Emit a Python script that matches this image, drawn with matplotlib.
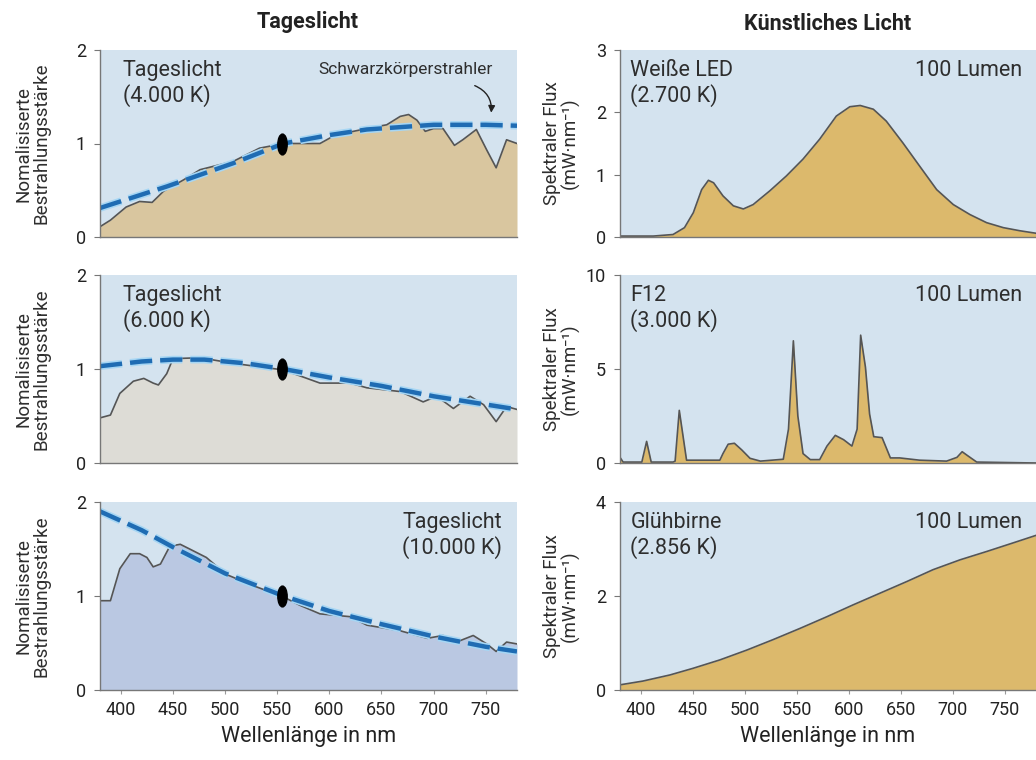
import matplotlib.pyplot as plt
import matplotlib.patheffects as pe
from matplotlib.path import Path
from matplotlib.transforms import Affine2D

plt.rcParams['font.family'] = ['Roboto', 'DejaVu Sans']

# --- Tageslicht 4.000 K ---
d4_nm = [380, 390, 405, 418, 430, 441, 460, 476, 508, 533, 556, 591, 604, 623, 645, 655,
         668, 676, 684, 692, 700, 709, 720, 728, 741, 751, 760, 770, 780]
d4_val = [0.11, 0.18, 0.32, 0.38, 0.37, 0.49, 0.61, 0.72, 0.81, 0.95, 1.0, 1.0, 1.08, 1.13,
          1.18, 1.2, 1.29, 1.31, 1.25, 1.13, 1.16, 1.16, 0.98, 1.04, 1.15, 0.93, 0.74, 1.04, 1.0]
bb4_nm = [380, 444, 508, 556, 600, 636, 700, 750, 780]
bb4_val = [0.31, 0.54, 0.79, 1.0, 1.09, 1.15, 1.2, 1.2, 1.19]

# --- Tageslicht 6.000 K ---
d6_nm = [380, 390, 399, 412, 422, 431, 436, 444, 450, 476, 508, 556, 591, 620, 636, 668,
         690, 703, 719, 735, 748, 760, 770, 780]
d6_val = [0.48, 0.51, 0.74, 0.87, 0.90, 0.85, 0.83, 0.95, 1.11, 1.12, 1.06, 0.99, 0.85,
          0.85, 0.80, 0.76, 0.65, 0.71, 0.58, 0.71, 0.62, 0.44, 0.60, 0.57]
bb6_nm = [380, 420, 450, 480, 520, 556, 600, 650, 700, 740, 780]
bb6_val = [1.03, 1.08, 1.1, 1.1, 1.06, 1.0, 0.91, 0.82, 0.71, 0.64, 0.57]

# --- Tageslicht 10.000 K ---
d10_nm = [380, 390, 399, 409, 418, 425, 431, 438, 447, 457, 466, 482, 501, 527, 556, 572,
          591, 620, 636, 668, 694, 709, 722, 738, 751, 760, 770, 780]
d10_val = [0.95, 0.95, 1.29, 1.45, 1.45, 1.41, 1.31, 1.34, 1.53, 1.55, 1.50, 1.41, 1.23,
           1.11, 0.99, 0.90, 0.81, 0.78, 0.69, 0.63, 0.55, 0.58, 0.51, 0.58, 0.49, 0.41, 0.51, 0.49]
bb10_nm = [380, 420, 450, 500, 556, 600, 650, 700, 750, 780]
bb10_val = [1.9, 1.7, 1.52, 1.24, 1.0, 0.84, 0.70, 0.57, 0.46, 0.41]

# --- Weiße LED 2.700 K ---
led_nm = [380, 412, 431, 442, 450.5, 458.5, 465, 470, 479, 489, 498.6, 508, 524, 540, 556,
          572, 588, 601, 611, 623.6, 636, 652, 668, 684.5, 700.5, 716.5, 732.5, 748.6, 764.6, 780]
led_val = [0.015, 0.015, 0.04, 0.15, 0.39, 0.76, 0.91, 0.87, 0.66, 0.50, 0.45, 0.52, 0.74,
           0.98, 1.25, 1.57, 1.94, 2.09, 2.11, 2.05, 1.86, 1.51, 1.14, 0.76, 0.52, 0.36,
           0.23, 0.15, 0.10, 0.06]

# --- F12 3.000 K ---
f12_nm = [380, 383, 401, 405.6, 410, 431, 433, 437, 444, 476, 479, 484, 490, 497, 505, 515,
          537, 542, 546.7, 551, 556, 563, 572, 579, 587, 595, 603, 608, 611.4, 616, 620, 624,
          632, 640, 649, 668, 694, 704, 709, 714, 723, 780]
f12_val = [0.3, 0.05, 0.05, 1.15, 0.05, 0.05, 0.1, 2.8, 0.15, 0.15, 0.5, 1.0, 1.05, 0.7,
           0.25, 0.1, 0.2, 1.8, 6.5, 2.5, 0.5, 0.18, 0.18, 0.9, 1.47, 1.24, 0.9, 1.8, 6.8,
           5.1, 2.6, 1.4, 1.35, 0.27, 0.27, 0.15, 0.1, 0.3, 0.6, 0.4, 0.05, 0.0]

# --- Glühbirne 2.856 K ---
inc_nm = [380, 402, 428, 450, 476, 502, 527, 553, 579, 604, 630, 656, 681, 707, 733, 758, 780]
inc_val = [0.11, 0.19, 0.32, 0.46, 0.64, 0.85, 1.07, 1.31, 1.56, 1.81, 2.06, 2.31, 2.56,
           2.77, 2.95, 3.13, 3.29]

x_ticks = [400, 450, 500, 550, 600, 650, 700, 750]

bg = '#d4e3ef'
gold = '#dcb96c'
line_c = '#555555'
dash_c = '#1f6cb3'
txt = '#2e2e2e'

fig = plt.figure(figsize=(10.36, 7.6), dpi=100)
W, H = 1036, 760


def make_ax(x0, y_top, y_bot, x1):
    return fig.add_axes([x0 / W, 1 - y_bot / H, (x1 - x0) / W, (y_bot - y_top) / H])


rows = [(50, 237), (275, 463), (502, 690)]
left_axes = [make_ax(100, t, b, 517) for t, b in rows]
right_axes = [make_ax(620, t, b, 1036) for t, b in rows]

ellipse = Path.unit_circle().transformed(Affine2D().scale(0.45, 1.0))

left_data = [
    (d4_nm, d4_val, bb4_nm, bb4_val, '#d9c69f', 'Tageslicht\n(4.000 K)', 'left'),
    (d6_nm, d6_val, bb6_nm, bb6_val, '#dddcd6', 'Tageslicht\n(6.000 K)', 'left'),
    (d10_nm, d10_val, bb10_nm, bb10_val, '#bac8e2', 'Tageslicht\n(10.000 K)', 'right'),
]

for ax, (nm, val, bnm, bval, fc, label, side) in zip(left_axes, left_data):
    ax.set_facecolor(bg)
    ax.fill_between(nm, val, 0, color=fc, lw=0)
    ax.plot(nm, val, color=line_c, lw=1.2)
    ax.plot(bnm, bval, color=dash_c, lw=3.2, dashes=(5, 1.8),
            path_effects=[pe.Stroke(linewidth=5.5, foreground='#a6d6f4'), pe.Normal()])
    ax.plot([555], [1.0], marker=ellipse, color='black', markersize=15, zorder=5)
    ax.set_xlim(380, 780)
    ax.set_ylim(0, 2)
    ax.set_yticks([0, 1, 2])
    ax.set_ylabel('Nomalisiserte\nBestrahlungsstärke', fontsize=13.5, color=txt,
                  linespacing=1.0)
    ax.yaxis.set_label_coords(-0.118, 0.5)
    if side == 'left':
        ax.text(0.055, 0.945, label, transform=ax.transAxes, ha='left', va='top',
                fontsize=15.5, color=txt, linespacing=1.15)
    else:
        ax.text(0.964, 0.945, label, transform=ax.transAxes, ha='right', va='top',
                fontsize=15.5, color=txt, linespacing=1.15, multialignment='right')

left_axes[0].text(673, 1.79, 'Schwarzkörperstrahler', ha='center', va='center',
                  fontsize=12.5, color=txt)
left_axes[0].annotate('', xy=(755, 1.30), xytext=(737, 1.63),
                      arrowprops=dict(arrowstyle='-|>', color='#222222', lw=1,
                                      connectionstyle='arc3,rad=-0.4', mutation_scale=10))

right_data = [
    (led_nm, led_val, [0, 1, 2, 3], 3, 'Weiße LED\n(2.700 K)'),
    (f12_nm, f12_val, [0, 5, 10], 10, 'F12\n(3.000 K)'),
    (inc_nm, inc_val, [0, 2, 4], 4, 'Glühbirne\n(2.856 K)'),
]

for ax, (nm, val, yt, ymax, label) in zip(right_axes, right_data):
    ax.set_facecolor(bg)
    ax.fill_between(nm, val, 0, color=gold, lw=0)
    ax.plot(nm, val, color=line_c, lw=1.2)
    ax.set_xlim(380, 780)
    ax.set_ylim(0, ymax)
    ax.set_yticks(yt)
    ax.set_ylabel('Spektraler Flux\n(mW·nm⁻¹)', fontsize=13.5, color=txt,
                  linespacing=1.0)
    ax.yaxis.set_label_coords(-0.096, 0.5)
    ax.text(0.025, 0.945, label, transform=ax.transAxes, ha='left', va='top',
            fontsize=15.5, color=txt, linespacing=1.15)
    ax.text(0.966, 0.945, '100 Lumen', transform=ax.transAxes, ha='right', va='top',
            fontsize=15.5, color=txt)

for ax in left_axes + right_axes:
    for s in ['top', 'right']:
        ax.spines[s].set_visible(False)
    for s in ['left', 'bottom']:
        ax.spines[s].set_color('#777777')
        ax.spines[s].set_linewidth(1)
    ax.tick_params(axis='y', length=4, color='#777777', labelsize=13, labelcolor='#222222', pad=6)
    ax.set_xticks(x_ticks)
    if ax in (left_axes[2], right_axes[2]):
        ax.tick_params(axis='x', length=3, color='#999999', labelsize=13, labelcolor='#222222', pad=5)
        ax.set_xlabel('Wellenlänge in nm', fontsize=15.5, color='#222222', labelpad=5)
    else:
        ax.tick_params(axis='x', length=0, labelbottom=False)

fig.text(308 / W, 1 - 22 / H, 'Tageslicht', ha='center', va='center', fontsize=15.5,
         fontweight='bold', color='#222222')
fig.text(828 / W, 1 - 24 / H, 'Künstliches Licht', ha='center', va='center', fontsize=15.5,
         fontweight='bold', color='#222222')

fig.savefig('out.png', dpi=100)
